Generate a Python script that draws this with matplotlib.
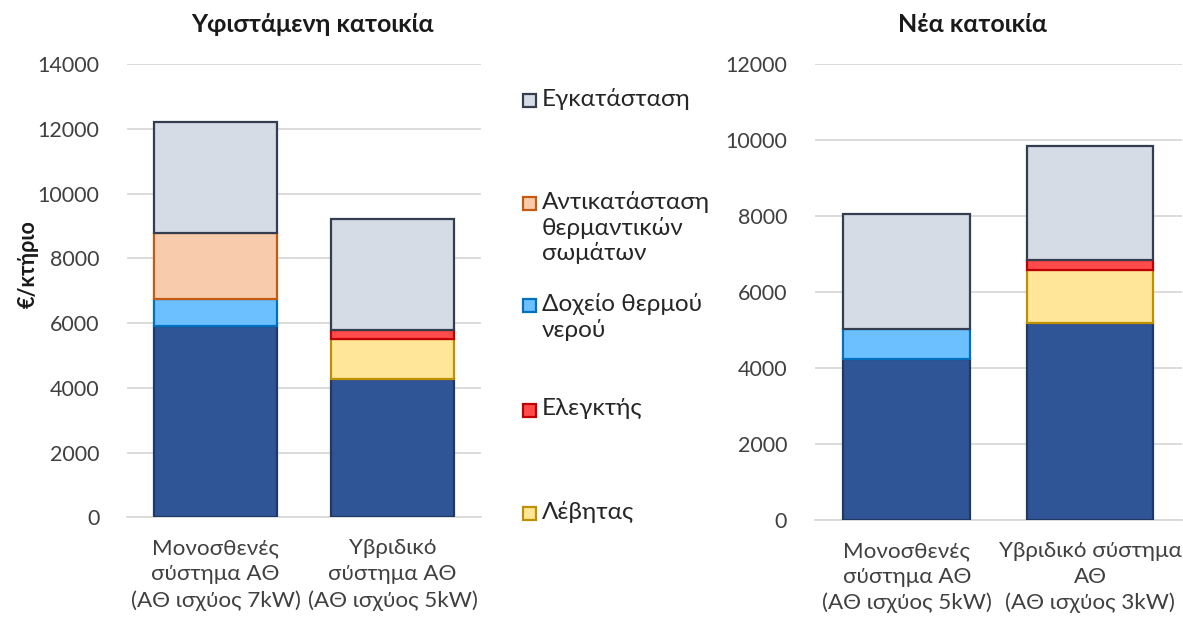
import matplotlib.pyplot as plt
from matplotlib.patches import Rectangle

plt.rcParams["font.family"] = ["Lato", "DejaVu Sans"]

# Υφιστάμενη κατοικία
exist_cats = ["Μονοσθενές\nσύστημα ΑΘ\n(ΑΘ ισχύος 7kW)",
              "Υβριδικό\nσύστημα ΑΘ\n(ΑΘ ισχύος 5kW)"]
exist_hp = [5920, 4260]
exist_boiler = [0, 1250]
exist_ctrl = [0, 280]
exist_tank = [830, 0]
exist_rad = [2030, 0]
exist_inst = [3420, 3430]

# Νέα κατοικία
new_cats = ["Μονοσθενές\nσύστημα ΑΘ\n(ΑΘ ισχύος 5kW)",
            "Υβριδικό σύστημα\nΑΘ\n(ΑΘ ισχύος 3kW)"]
new_hp = [4230, 5190]
new_boiler = [0, 1380]
new_ctrl = [0, 280]
new_tank = [790, 0]
new_rad = [0, 0]
new_inst = [3020, 2980]

legend_labels = ["Εγκατάσταση", "Αντικατάσταση\nθερμαντικών\nσωμάτων",
                 "Δοχείο θερμού\nνερού", "Ελεγκτής", "Λέβητας"]

# (fill, edge) per series, stacking order bottom -> top
styles = {
    "hp": ("#2F5597", "#203864"),
    "boiler": ("#FFE699", "#BF9000"),
    "ctrl": ("#FF4B4B", "#C00000"),
    "tank": ("#6CC0FF", "#0070C0"),
    "rad": ("#F8CBAD", "#C55A11"),
    "inst": ("#D6DCE5", "#333F50"),
}

FS_TICK = 15.5
FS_XLAB = 16.1
FS_LEG = 17.5
FS_TITLE = 18


def draw_panel(ax, cats, series, ymax):
    x = list(range(len(cats)))
    bottom = [0] * len(cats)
    for key, vals in series:
        fc, ec = styles[key]
        for i, v in enumerate(vals):
            if v > 0:
                ax.bar(x[i], v, bottom=bottom[i], width=0.69, color=fc,
                       edgecolor=ec, linewidth=1.6, zorder=3)
        bottom = [b + v for b, v in zip(bottom, vals)]
    ax.set_xlim(-0.5, len(cats) - 0.5)
    ax.set_ylim(0, ymax)
    ax.set_yticks(range(0, ymax + 1, 2000))
    ax.set_xticks(x)
    ax.set_xticklabels(cats, fontsize=FS_XLAB, linespacing=1.37)
    ax.tick_params(axis="y", labelsize=FS_TICK, length=0, pad=20, colors="#404040")
    ax.tick_params(axis="x", length=0, pad=15, colors="#404040")
    ax.grid(axis="y", color="#D9D9D9", linewidth=1.3, zorder=0)
    for s in ["top", "right", "left"]:
        ax.spines[s].set_visible(False)
    ax.spines["bottom"].set_color("#D9D9D9")
    ax.spines["bottom"].set_linewidth(1.3)


fig = plt.figure(figsize=(11.83, 6.2), dpi=100)

ax1 = fig.add_axes([0.1074, 0.1656, 0.2992, 0.7312])
draw_panel(ax1, exist_cats,
           [("hp", exist_hp), ("boiler", exist_boiler), ("ctrl", exist_ctrl),
            ("tank", exist_tank), ("rad", exist_rad), ("inst", exist_inst)],
           14000)

ax2 = fig.add_axes([0.6889, 0.1613, 0.3102, 0.7355])
draw_panel(ax2, new_cats,
           [("hp", new_hp), ("boiler", new_boiler), ("ctrl", new_ctrl),
            ("tank", new_tank), ("rad", new_rad), ("inst", new_inst)],
           12000)

fig.text(0.264, 0.96, "Υφιστάμενη κατοικία", ha="center", va="center",
         fontsize=FS_TITLE, fontweight="bold", color="#1a1a1a")
fig.text(0.822, 0.96, "Νέα κατοικία", ha="center", va="center",
         fontsize=FS_TITLE, fontweight="bold", color="#1a1a1a")
fig.text(0.024, 0.574, "€/κτήριο", rotation=90, ha="center", va="center",
         fontsize=FS_TICK, fontweight="bold", color="#1a1a1a")

# legend drawn by hand to follow the spaced-out layout
legend_keys = ["inst", "rad", "tank", "ctrl", "boiler"]
legend_y = [100, 203, 305, 410, 513]
W, H = 1183, 620
for key, lab, ypx in zip(legend_keys, legend_labels, legend_y):
    fc, ec = styles[key]
    fig.add_artist(Rectangle((523 / W, 1 - (ypx + 7) / H), 13 / W, 13 / H,
                             transform=fig.transFigure, facecolor=fc,
                             edgecolor=ec, linewidth=1.6))
    fig.text(542 / W, 1 - (ypx - 12) / H, lab, ha="left", va="top",
             fontsize=FS_LEG, color="#262626", linespacing=1.2)

fig.savefig("out.png", dpi=100)
